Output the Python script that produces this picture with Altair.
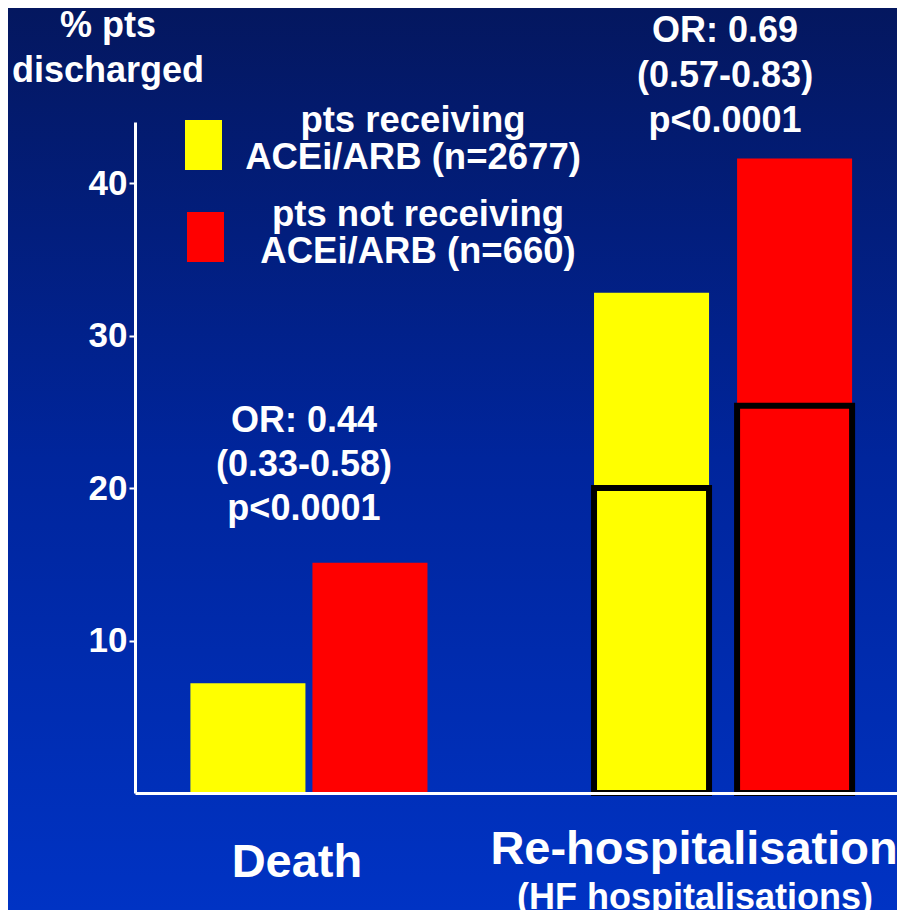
import altair as alt
import pandas as pd

# ---- data ----
groups = ["Death", "Re-hospitalisation"]
series = ["pts receiving\nACEi/ARB (n=2677)", "pts not receiving\nACEi/ARB (n=660)"]
receiving = [7.2, 32.8]
not_receiving = [15.1, 41.6]
hf_receiving = [20.0]          # HF hospitalisations (outlined part, Re-hospitalisation)
hf_not_receiving = [25.4]
y_ticks = [10, 20, 30, 40]
or_texts = ["OR: 0.44\n(0.33-0.58)\np<0.0001", "OR: 0.69\n(0.57-0.83)\np<0.0001"]
y_title = "% pts\ndischarged"
sub_label = "(HF hospitalisations)"

FONT = "Liberation Sans"
WHITE = "white"

rows = []
for g, a, b in zip(groups, receiving, not_receiving):
    rows.append({"group": g, "series": series[0], "value": a})
    rows.append({"group": g, "series": series[1], "value": b})
bars = pd.DataFrame(rows)
hf = pd.DataFrame({"group": [groups[1], groups[1]],
                   "series": [series[0], series[1]],
                   "value": [hf_receiving[0], hf_not_receiving[0]]})


def xenc():
    return alt.X("group:N",
                 scale=alt.Scale(domain=groups, paddingInner=0.372, paddingOuter=0.106),
                 axis=alt.Axis(labels=False, ticks=False, title=None, grid=False,
                               domainColor=WHITE, domainWidth=3, zindex=1))


yenc = alt.Y("value:Q",
             scale=alt.Scale(domain=[0, 44], nice=False, zero=True),
             axis=alt.Axis(values=y_ticks, title=None, grid=False, domainColor=WHITE,
                           domainWidth=3, tickColor=WHITE, tickSize=6, tickWidth=2,
                           labelColor=WHITE, labelFont=FONT, labelFontWeight="bold",
                           labelFontSize=35, labelPadding=2, zindex=1))

color = alt.Color("series:N", scale=alt.Scale(domain=series, range=["#FFFF00", "#FF0000"]),
                  legend=None)

xoff_death = alt.XOffset("series:N", scale=alt.Scale(domain=series, paddingInner=0.0574,
                                                      paddingOuter=0.0943))
xoff_rehosp = alt.XOffset("series:N", scale=alt.Scale(domain=series, paddingInner=0.196,
                                                       paddingOuter=0.007))

grad = alt.LinearGradient(
    gradient="linear",
    stops=[alt.GradientStop(offset=0, color="#04175f"),
           alt.GradientStop(offset=0.5, color="#00259c"),
           alt.GradientStop(offset=1, color="#0033c4")],
    x1=0, x2=0, y1=0, y2=1)

one = pd.DataFrame({"k": [0]})
background = alt.Chart(one).mark_rect(fill=grad).encode(
    x=alt.value(-127), x2=alt.value(762), y=alt.value(-114), y2=alt.value(788))

death_bars = alt.Chart(bars).transform_filter(
    alt.datum.group == groups[0]).mark_bar().encode(
    x=xenc(), xOffset=xoff_death, y=yenc, color=color)

rehosp_bars = alt.Chart(bars).transform_filter(
    alt.datum.group == groups[1]).mark_bar().encode(
    x=xenc(), xOffset=xoff_rehosp, y=yenc, color=color)

hf_outline = alt.Chart(hf).mark_bar(fillOpacity=0, stroke="black", strokeWidth=6).encode(
    x=xenc(), xOffset=xoff_rehosp, y=yenc)

txt = dict(font=FONT, fontWeight="bold", color=WHITE, align="center",
           baseline="alphabetic", lineBreak="\n")

title = alt.Chart(pd.DataFrame({"t": [y_title]})).mark_text(
    fontSize=36, lineHeight=45, **txt).encode(
    x=alt.value(-27), y=alt.value(-85), text="t:N")

# legend (swatches use the colour scale)
leg_df = pd.DataFrame({"series": series})
sw1 = alt.Chart(leg_df).transform_filter(alt.datum.series == series[0]).mark_rect().encode(
    x=alt.value(50), x2=alt.value(87), y=alt.value(-2), y2=alt.value(48), color=color)
sw2 = alt.Chart(leg_df).transform_filter(alt.datum.series == series[1]).mark_rect().encode(
    x=alt.value(52), x2=alt.value(89), y=alt.value(90), y2=alt.value(140), color=color)
lt1 = alt.Chart(leg_df).transform_filter(alt.datum.series == series[0]).mark_text(
    fontSize=36.5, lineHeight=37, **txt).encode(
    x=alt.value(278), y=alt.value(10), text="series:N")
lt2 = alt.Chart(leg_df).transform_filter(alt.datum.series == series[1]).mark_text(
    fontSize=36.5, lineHeight=37, **txt).encode(
    x=alt.value(283), y=alt.value(104), text="series:N")

ann = pd.DataFrame({"group": groups, "t": or_texts})
ann1 = alt.Chart(ann).transform_filter(alt.datum.group == groups[0]).mark_text(
    fontSize=36, lineHeight=44, dx=-5, **txt).encode(
    x=xenc(), y=alt.value(310), text="t:N")
ann2 = alt.Chart(ann).transform_filter(alt.datum.group == groups[1]).mark_text(
    fontSize=36, lineHeight=45, dx=2, **txt).encode(
    x=xenc(), y=alt.value(-80), text="t:N")

lab = pd.DataFrame({"group": groups})
lab1 = alt.Chart(lab).transform_filter(alt.datum.group == groups[0]).mark_text(
    fontSize=47, dx=-12, **txt).encode(x=xenc(), y=alt.value(755), text="group:N")
lab2 = alt.Chart(lab).transform_filter(alt.datum.group == groups[1]).mark_text(
    fontSize=47, dx=-29, **txt).encode(x=xenc(), y=alt.value(742), text="group:N")
sub = pd.DataFrame({"group": [groups[1]], "t": [sub_label]})
lab3 = alt.Chart(sub).mark_text(fontSize=36, dx=-28, **txt).encode(
    x=xenc(), y=alt.value(787), text="t:N")

chart = alt.layer(
    background, death_bars, rehosp_bars, hf_outline, title, sw1, sw2, lt1, lt2,
    ann1, ann2, lab1, lab2, lab3
).resolve_scale(xOffset="independent").properties(
    width=762, height=671,
    padding={"left": 127, "top": 114, "right": 0, "bottom": 117},
    autosize="none",
).configure_view(stroke=None).configure(background="#0a2a9a")

chart.save("out.html", embed_options={"renderer": "svg", "actions": False})
